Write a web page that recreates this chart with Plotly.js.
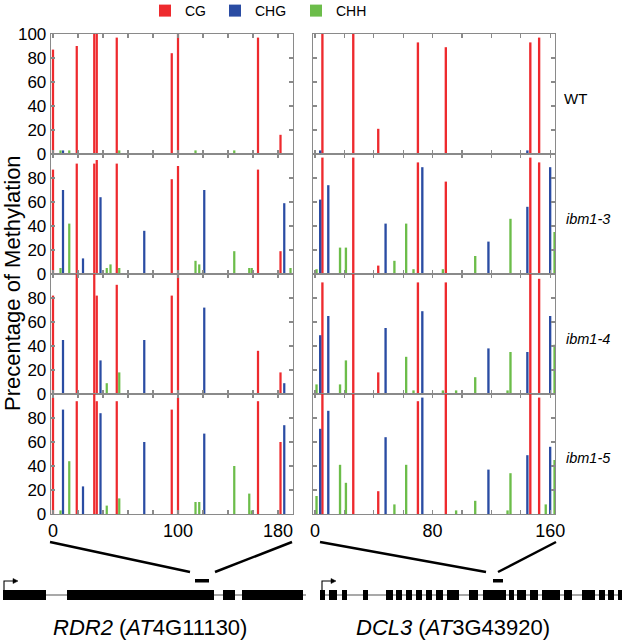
<!DOCTYPE html>
<html><head><meta charset="utf-8">
<script src="https://cdn.plot.ly/plotly-3.0.1.min.js"></script>
<style>html,body{margin:0;padding:0;background:#fff}#chart{width:628px;height:643px}</style>
</head><body><div id="chart"></div>
<script>
// ---------------- DATA ----------------
const genotypes = ['WT', 'ibm1-3', 'ibm1-4', 'ibm1-5'];
const contexts = ['CG', 'CHG', 'CHH'];

// RDR2 (AT4G11130) amplicon, positions in bp
const rdr2CgPos   = [0, 19, 33, 35, 51, 95, 100, 164, 182];
const rdr2CgWT    = [87, 90, 100, 100, 97, 84, 100, 97, 16];
const rdr2CgIbm13 = [87, 92, 92, 95, 92, 79, 90, 87, 19];
const rdr2CgIbm14 = [82, 100, 100, 82, 91, 82, 100, 36, 18];
const rdr2CgIbm15 = [97, 94, 100, 94, 94, 87, 97, 94, 60];

const rdr2ChgPos   = [8, 24, 38, 73, 121, 185];
const rdr2ChgWT    = [3, null, null, null, null, null];
const rdr2ChgIbm13 = [70, 13, 64, 36, 70, 59];
const rdr2ChgIbm14 = [45, null, 28, 45, 72, 9];
const rdr2ChgIbm15 = [87, 23, 84, 60, 67, 74];

const rdr2ChhPos   = [6, 13, 43, 46, 53, 114, 117, 120, 145, 157, 159, 190];
const rdr2ChhWT    = [3, 3, null, null, 3, 3, null, null, 3, null, null, null];
const rdr2ChhIbm13 = [5, 42, 5, 8, 5, 11, 8, 2, 19, 5, 5, 5];
const rdr2ChhIbm14 = [null, null, 9, null, 18, null, null, null, null, null, null, null];
const rdr2ChhIbm15 = [3, 44, 7, null, 13, 10, 10, null, 40, 17, 3, null];

// DCL3 (AT3G43920) amplicon, positions in bp
const dcl3CgPos   = [5, 26, 43, 70, 89, 146.5, 152.5];
const dcl3CgWT    = [100, 100, 21, 93, 89, 93, 97];
const dcl3CgIbm13 = [97, 97, 7, 93, 77, 97, 93];
const dcl3CgIbm14 = [93, 100, 18, 93, 93, 100, 96];
const dcl3CgIbm15 = [100, 100, 19, 94, 100, 100, 97];

const dcl3ChgPos   = [3.5, 9, 48, 73, 118, 144.5, 160];
const dcl3ChgWT    = [3, null, null, null, null, 3, null];
const dcl3ChgIbm13 = [62, 74, 42, 89, 27, 56, 89];
const dcl3ChgIbm14 = [49, 65, 55, 69, 38, 35, 65];
const dcl3ChgIbm15 = [71, 86, 64, 97, 37, 49, 56];

const dcl3ChhPos   = [1, 17, 21, 54, 62, 67, 87, 96, 109, 131, 133, 157, 163];
const dcl3ChhWT    = [null, null, null, null, null, null, null, null, null, null, null, null, null];
const dcl3ChhIbm13 = [4, 22, 22, 11, 42, 4, 4, null, 15, null, 46, null, 35];
const dcl3ChhIbm14 = [8, 8, 28, null, 31, 3, 3, 3, 14, 3, 35, null, 41];
const dcl3ChhIbm15 = [15, 41, 26, 8, 41, null, null, 3, 11, 3, 34, 8, 45];

// tick labels
const rdr2TickVals = [0, 20, 40, 60, 80, 100, 120, 140, 160, 180];
const rdr2TickText = ['0', '', '', '', '', '100', '', '', '', '180'];
const dcl3TickVals = [0, 20, 40, 60, 80, 100, 120, 140, 160];
const dcl3TickText = ['0', '', '', '', '80', '', '', '', '160'];
const yTickVals = [0, 20, 40, 60, 80, 100];
const yTickTextTop = ['0', '20', '40', '60', '80', '100'];
const yTickTextOther = ['0', '20', '40', '60', '80', ''];

// ---------------- LAYOUT HELPERS ----------------
const W = 628, H = 643;
const px = v => v / W;
const py = v => 1 - v / H;
const FONT = 'Liberation Sans, Arial, Helvetica, sans-serif';
const colors = {CG: '#ee2a2e', CHG: '#2a4ca3', CHH: '#6cbd4a'};

const genes = [
  {pos: [rdr2CgPos, rdr2ChgPos, rdr2ChhPos],
   vals: [[rdr2CgWT, rdr2ChgWT, rdr2ChhWT], [rdr2CgIbm13, rdr2ChgIbm13, rdr2ChhIbm13],
          [rdr2CgIbm14, rdr2ChgIbm14, rdr2ChhIbm14], [rdr2CgIbm15, rdr2ChgIbm15, rdr2ChhIbm15]],
   barWidth: 1.8, range: [-1.6, 192], tickvals: rdr2TickVals, ticktext: rdr2TickText, dom: [51, 293]},
  {pos: [dcl3CgPos, dcl3ChgPos, dcl3ChhPos],
   vals: [[dcl3CgWT, dcl3ChgWT, dcl3ChhWT], [dcl3CgIbm13, dcl3ChgIbm13, dcl3ChhIbm13],
          [dcl3CgIbm14, dcl3ChgIbm14, dcl3ChhIbm14], [dcl3CgIbm15, dcl3ChgIbm15, dcl3ChhIbm15]],
   barWidth: 1.6, range: [-1.4, 163.3], tickvals: dcl3TickVals, ticktext: dcl3TickText, dom: [313, 555]}
];
const rowPx = [[34, 154], [154, 274], [274, 394], [394, 514]];

const axisStyle = {
  showline: true, linecolor: '#8a8a8a', linewidth: 1.3, mirror: 'ticks',
  ticks: 'inside', ticklen: 4, tickwidth: 1.2, tickcolor: '#8a8a8a',
  showgrid: false, zeroline: false, fixedrange: true,
  tickfont: {family: FONT, size: 17, color: '#000'}
};

const traces = [];
const layout = {
  width: W, height: H, margin: {l: 0, r: 0, t: 0, b: 0, autoexpand: false},
  paper_bgcolor: '#fff', plot_bgcolor: '#fff', barmode: 'overlay',
  font: {family: FONT, color: '#000'}, showlegend: true,
  annotations: [], shapes: []
};

genes.forEach((g, c) => {
  genotypes.forEach((gt, r) => {
    const n = r * 2 + c + 1;
    const sfx = n > 1 ? String(n) : '';
    contexts.forEach((ctx, k) => {
      traces.push({
        type: 'bar', x: g.pos[k], y: g.vals[r][k], xaxis: 'x' + sfx, yaxis: 'y' + sfx,
        name: ctx, width: g.barWidth, marker: {color: colors[ctx], line: {width: 0}},
        showlegend: n === 1, legend: k === 0 ? 'legend' : 'legend' + (k + 1), legendgroup: ctx,
        hovertemplate: gt + ' ' + ctx + ': %{y}%<extra></extra>'
      });
    });
    layout['xaxis' + sfx] = Object.assign({}, axisStyle, {
      domain: [px(g.dom[0]), px(g.dom[1])], range: g.range, anchor: 'y' + sfx,
      tickmode: 'array', tickvals: g.tickvals, ticktext: g.ticktext,
      showticklabels: r === 3, tickfont: {family: FONT, size: 18, color: '#000'}
    });
    layout['yaxis' + sfx] = Object.assign({}, axisStyle, {
      domain: [py(rowPx[r][1]), py(rowPx[r][0])], range: [0, 100], anchor: 'x' + sfx,
      tickmode: 'array', tickvals: yTickVals, ticktext: r === 0 ? yTickTextTop : yTickTextOther,
      showticklabels: c === 0
    });
  });
});

// legends (one per context, placed side by side)
const legendX = [145, 215, 296];
['legend', 'legend2', 'legend3'].forEach((lg, i) => {
  layout[lg] = {orientation: 'h', x: px(legendX[i]), xanchor: 'left', y: 1 + 5 / H, yanchor: 'top',
    bgcolor: 'rgba(0,0,0,0)', font: {family: FONT, size: 14, color: '#000'}};
});

// y-axis title
layout.annotations.push({text: 'Precentage of Methylation', xref: 'paper', yref: 'paper',
  x: px(12), y: py(283), textangle: -90, showarrow: false, xanchor: 'center', yanchor: 'middle',
  font: {family: FONT, size: 22, color: '#000'}});

// row labels
const rowLabelY = [98, 219, 339, 458];
genotypes.forEach((gt, r) => {
  layout.annotations.push({text: r === 0 ? gt : '<i>' + gt + '</i>', xref: 'paper', yref: 'paper',
    x: px(r === 0 ? 562 : 564), y: py(rowLabelY[r]), xanchor: 'left', yanchor: 'middle', showarrow: false,
    font: {family: FONT, size: r === 0 ? 15 : 14.5, color: '#000'}});
});

// ---------------- GENE DIAGRAMS ----------------
const rdr2Exons = [[3, 46], [67, 214], [223, 235], [242, 303]];
const dcl3Exons = [[320, 325], [329, 337], [342, 347], [363, 368], [386, 393], [396, 402], [406, 412],
  [416, 422], [426, 432], [436, 443], [447, 459], [469, 478], [483, 506], [509, 514], [517, 526],
  [530, 538], [542, 560], [564, 572], [582, 595], [599, 605], [608, 614], [618, 622]];
const geneDraw = [
  {exons: rdr2Exons, line: [3, 306], tss: 4, marker: [195, 209],
   zoom: [[50, 542, 190, 572], [292, 542, 215, 572]], label: '<i>RDR2</i> (<i>AT</i>4G11130)', labelX: 150},
  {exons: dcl3Exons, line: [320, 622], tss: 322, marker: [493, 503],
   zoom: [[320, 542, 486, 572], [556, 542, 498, 572]], label: '<i>DCL3</i> (<i>AT</i>3G43920)', labelX: 453}
];
const exonTop = 590, exonBot = 600, baseY = 595;
geneDraw.forEach(gd => {
  const S = layout.shapes;
  S.push({type: 'line', xref: 'paper', yref: 'paper', x0: px(gd.line[0]), x1: px(gd.line[1]),
    y0: py(baseY), y1: py(baseY), line: {color: '#8c8c8c', width: 1.6}});
  gd.exons.forEach(e => S.push({type: 'rect', xref: 'paper', yref: 'paper', x0: px(e[0]), x1: px(e[1]),
    y0: py(exonBot), y1: py(exonTop), fillcolor: '#000', line: {width: 0}}));
  S.push({type: 'rect', xref: 'paper', yref: 'paper', x0: px(gd.marker[0]), x1: px(gd.marker[1]),
    y0: py(582.5), y1: py(579), fillcolor: '#000', line: {width: 0}});
  gd.zoom.forEach(z => S.push({type: 'line', xref: 'paper', yref: 'paper', x0: px(z[0]), y0: py(z[1]),
    x1: px(z[2]), y1: py(z[3]), line: {color: '#000', width: 2.5}}));
  // transcription start arrow
  const t = gd.tss;
  S.push({type: 'path', xref: 'paper', yref: 'paper',
    path: `M${px(t)},${py(exonTop)} L${px(t)},${py(581)} L${px(t + 10)},${py(581)}`,
    line: {color: '#000', width: 1.1}});
  S.push({type: 'path', xref: 'paper', yref: 'paper',
    path: `M${px(t + 9)},${py(578.5)} L${px(t + 14)},${py(581)} L${px(t + 9)},${py(583.5)} Z`,
    fillcolor: '#000', line: {color: '#000', width: 0.5}});
  layout.annotations.push({text: gd.label, xref: 'paper', yref: 'paper', x: px(gd.labelX), y: py(627),
    xanchor: 'center', yanchor: 'middle', showarrow: false, font: {family: FONT, size: 22, color: '#000'}});
});

Plotly.newPlot('chart', traces, layout, {displayModeBar: false, staticPlot: true});
</script>
</body></html>
